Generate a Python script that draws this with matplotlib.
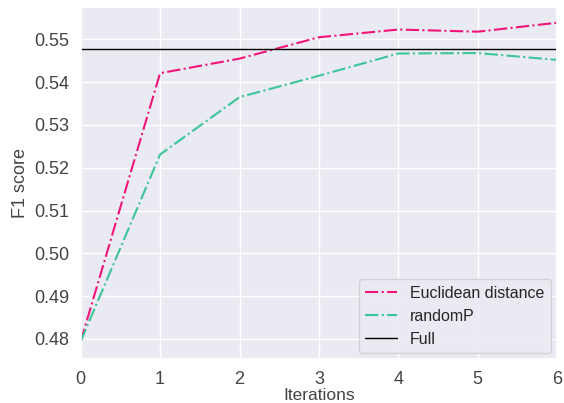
import matplotlib
matplotlib.use("Agg")
import matplotlib.pyplot as plt
import seaborn as sns

iterations = [0, 1, 2, 3, 4, 5, 6]
euclidean = [0.4794, 0.5421, 0.5455, 0.5505, 0.5523, 0.5518, 0.5539]
randomP = [0.4794, 0.5231, 0.5365, 0.5415, 0.5467, 0.5468, 0.5452]
full_score = 0.5478

sns.set_theme(style="darkgrid")
plt.rcParams['font.family'] = ['Arial', 'Liberation Sans', 'DejaVu Sans']

fig, ax = plt.subplots(figsize=(5.64, 4.03), dpi=100)
ax.plot(iterations, euclidean, linestyle='-.', color='#f0157a', lw=1.5, label='Euclidean distance')
ax.plot(iterations, randomP, linestyle='-.', color='#3cc49a', lw=1.5, label='randomP')
ax.axhline(full_score, color='black', lw=1.0, label='Full')

ax.set_xlim(0, 6)
ax.set_ylim(0.4752, 0.5576)
ax.set_yticks([0.48, 0.49, 0.50, 0.51, 0.52, 0.53, 0.54, 0.55])
ax.set_yticklabels(['0.48', '0.49', '0.50', '0.51', '0.52', '0.53', '0.54', '0.55'])
ax.tick_params(labelsize=13, colors='#444444', pad=2)
ax.set_xlabel('Iterations', fontsize=12.5, color='#444444', labelpad=0)
ax.set_ylabel('F1 score', fontsize=13, color='#444444', labelpad=4)
ax.legend(loc='lower right', fontsize=11.5, framealpha=0.8, borderaxespad=0.4)

fig.subplots_adjust(left=0.143, right=0.988, top=0.983, bottom=0.108)
fig.savefig('out.png', dpi=100)
